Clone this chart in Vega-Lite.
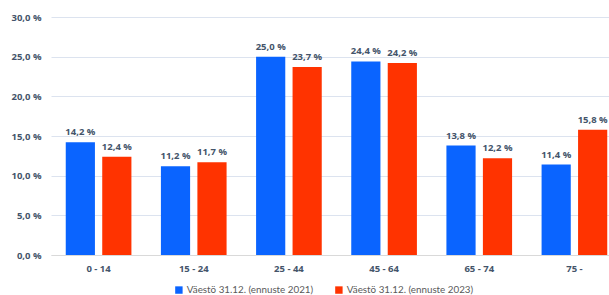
{
  "$schema": "https://vega.github.io/schema/vega-lite/v6.json",
  "width": 571,
  "height": 238,
  "autosize": {"type": "none"},
  "padding": {"left": 51, "top": 17, "right": 0, "bottom": 40},
  "config": {
    "locale": {"number": {"decimal": ",", "thousands": " ", "grouping": [3], "currency": ["", " €"], "percent": " %"}},
    "view": {"stroke": null},
    "font": "Open Sans"
  },
  "data": {
    "values": [
      {"ika": "0 - 14", "sarja": "Väestö 31.12. (ennuste 2021)", "osuus": 0.142},
      {"ika": "0 - 14", "sarja": "Väestö 31.12. (ennuste 2023)", "osuus": 0.124},
      {"ika": "15 - 24", "sarja": "Väestö 31.12. (ennuste 2021)", "osuus": 0.112},
      {"ika": "15 - 24", "sarja": "Väestö 31.12. (ennuste 2023)", "osuus": 0.117},
      {"ika": "25 - 44", "sarja": "Väestö 31.12. (ennuste 2021)", "osuus": 0.250},
      {"ika": "25 - 44", "sarja": "Väestö 31.12. (ennuste 2023)", "osuus": 0.237},
      {"ika": "45 - 64", "sarja": "Väestö 31.12. (ennuste 2021)", "osuus": 0.244},
      {"ika": "45 - 64", "sarja": "Väestö 31.12. (ennuste 2023)", "osuus": 0.242},
      {"ika": "65 - 74", "sarja": "Väestö 31.12. (ennuste 2021)", "osuus": 0.138},
      {"ika": "65 - 74", "sarja": "Väestö 31.12. (ennuste 2023)", "osuus": 0.122},
      {"ika": "75 -", "sarja": "Väestö 31.12. (ennuste 2021)", "osuus": 0.114},
      {"ika": "75 -", "sarja": "Väestö 31.12. (ennuste 2023)", "osuus": 0.158}
    ]
  },
  "encoding": {
    "x": {
      "field": "ika", "type": "nominal", "sort": null,
      "scale": {"paddingInner": 0.31, "paddingOuter": 0.155},
      "axis": {"title": null, "labelAngle": 0, "labelFont": "Open Sans", "labelFontSize": 9.5, "labelFontWeight": "bold", "labelColor": "#44546A", "ticks": false, "domainColor": "#D9D9D9", "labelPadding": 8}
    },
    "xOffset": {"field": "sarja", "type": "nominal", "scale": {"paddingInner": 0.2, "paddingOuter": 0}},
    "y": {
      "field": "osuus", "type": "quantitative",
      "scale": {"domain": [0, 0.3]},
      "axis": {"title": null, "format": ".1%", "values": [0, 0.05, 0.1, 0.15, 0.2, 0.25, 0.3], "labelOverlap": false, "labelFont": "Open Sans", "labelFontSize": 9.5, "labelFontWeight": "bold", "labelColor": "#44546A", "ticks": false, "domain": false, "gridColor": "#DCE3EF", "labelPadding": 10}
    }
  },
  "layer": [
    {
      "mark": {"type": "bar"},
      "encoding": {
        "color": {
          "field": "sarja", "type": "nominal",
          "scale": {"range": ["#0A64FF", "#FF3300"]},
          "legend": {"title": null, "orient": "none", "direction": "horizontal", "legendX": 123, "legendY": 268, "symbolType": "square", "symbolSize": 55, "labelFont": "Lato", "labelFontSize": 9.8, "labelColor": "#595959", "columnPadding": 20, "symbolOffset": 0, "labelOffset": 3}
        }
      }
    },
    {
      "mark": {"type": "text", "baseline": "bottom", "dy": -5, "font": "Open Sans", "fontSize": 9.5, "fontWeight": "bold", "color": "#44546A"},
      "encoding": {"text": {"field": "osuus", "type": "quantitative", "format": ".1%"}}
    }
  ]
}
